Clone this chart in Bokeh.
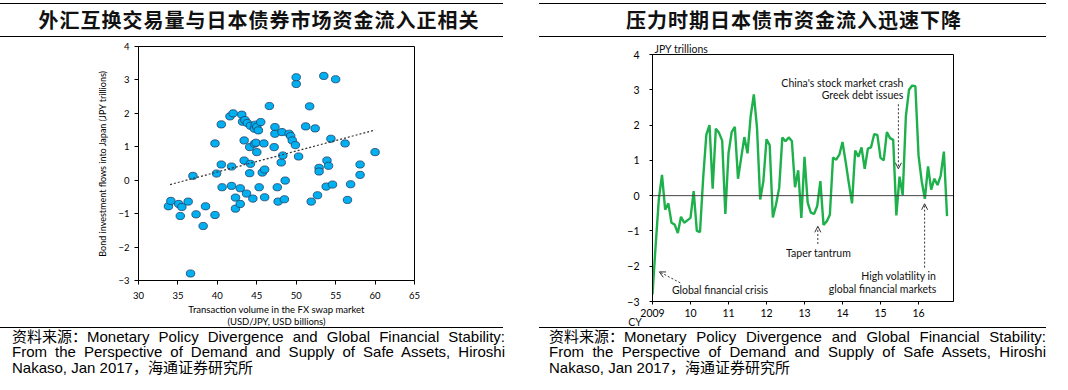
from bokeh.plotting import figure
from bokeh.models import Range1d, Div, Label, Arrow, OpenHead, FixedTicker, Span
from bokeh.layouts import column, row
from bokeh.embed import file_html
from bokeh.resources import INLINE

# ---------------- data ----------------
title_left = "外汇互换交易量与日本债券市场资金流入正相关"
title_right = "压力时期日本债市资金流入迅速下降"

fx_volume = [33.8, 34.1, 35.1, 35.5, 35.3, 36.3, 36.9, 37.3, 38.2, 38.5,
             36.6, 39.7, 39.7, 39.9, 40.5, 40.5, 40.6, 41.6, 42.0, 41.8,
             41.8, 42.3, 42.3, 42.9, 42.9, 43.1, 43.2, 43.5, 43.8, 44.2,
             43.4, 43.4, 43.7, 44.1, 44.2, 44.1, 44.5, 44.7, 44.8, 45.0,
             45.2, 45.5, 44.7, 44.9, 45.0, 45.3, 45.9, 45.7, 46.0, 46.0,
             46.6, 47.2, 47.3, 47.3, 47.6, 47.7, 48.1, 48.3, 48.2, 48.5,
             48.6, 49.1, 49.3, 49.5, 49.9, 50.0, 50.0, 50.3, 51.2, 51.7,
             52.4, 51.9, 52.7, 52.9, 52.9, 53.5, 53.8, 53.9, 54.1, 54.4,
             54.6, 55.0, 56.2, 56.5, 56.9, 58.1, 58.1, 60.0]
bond_flows = [-0.78, -0.62, -0.71, -0.80, -1.07, -0.64, 0.13, -1.02, -1.37, -0.78,
              -2.79, -1.04, 1.10, 0.20, 1.67, 0.47, -0.21, 1.91, 2.00, 0.41,
              -0.17, -0.52, -0.85, -0.71, -0.24, 1.96, 1.75, 1.80, 1.71, 1.63,
              1.19, 0.59, -0.40, 0.99, 0.49, 0.21, -0.55, 1.54, 1.66, 1.60,
              1.49, 1.74, 1.09, 1.12, 0.84, -0.21, 1.10, 0.23, 0.32, -0.51,
              2.22, 0.99, 1.59, 1.39, -0.21, -0.64, 0.53, 0.74, 1.44, -0.57,
              -0.01, 1.39, 1.32, 1.19, 1.05, 2.88, 3.08, 0.71, 1.61, 2.21,
              1.55, -0.64, -0.45, 0.37, 0.26, 3.12, -0.19, 0.59, 0.43, 1.24,
              -0.13, 3.02, 1.10, -0.59, -0.12, 0.47, 0.16, 0.84]
trend_x = [34.0, 60.0]
trend_y = [-0.13, 1.50]

scatter_xticks = [30, 35, 40, 45, 50, 55, 60, 65]
scatter_yticks = [-3, -2, -1, 0, 1, 2, 3, 4]

# monthly bond investment flows, Jan 2009 - Oct 2016 (JPY trillions)
monthly_flows = [
    -2.80, -1.40, -0.10, 0.59, -0.40, -0.22, -0.77, -0.82, -1.06, -0.60, -0.77, -0.70,   # 2009
    -0.63, 0.13, -1.00, -1.03, 0.50, 1.73, 2.00, 0.20, 1.90, 1.78, 1.56, -0.52,          # 2010
    1.20, 1.80, 1.95, 0.48, 1.07, 1.66, 1.20, 2.25, 2.87, 1.92, -0.11, 0.40,             # 2011
    1.60, 1.43, -0.62, -0.25, 0.22, 1.65, 1.54, 1.65, 1.55, 0.24, 0.72, -0.63,           # 2012
    1.10, -0.20, -0.48, -0.52, -0.30, 0.41, -0.83, -0.73, -0.54, 1.08, 1.02, 1.16,       # 2013
    1.52, 0.95, 0.35, -0.22, 1.28, 1.10, 1.37, 0.76, 1.33, 1.37, 1.74, 1.72,             # 2014
    1.07, 1.00, 1.80, 1.63, 1.58, -0.56, 0.54, 0.02, 2.25, 3.00, 3.12, 3.10,             # 2015
    1.14, 0.41, -0.09, 0.83, 0.17, 0.48, 0.30, 0.57, 1.25, -0.58,                       # 2016
]
start_year = 2009
year_ticks = [2009, 2010, 2011, 2012, 2013, 2014, 2015, 2016]
year_labels = ["2009", "10", "11", "12", "13", "14", "15", "16"]
line_yticks = [-3, -2, -1, 0, 1, 2, 3, 4]

source_prefix = "资料来源："
source_lines = ["Monetary Policy Divergence and Global Financial Stability:",
                "From the Perspective of Demand and Supply of Safe Assets, Hiroshi",
                "Nakaso, Jan 2017"]
source_suffix = "，海通证券研究所"

month_x = [start_year + i / 12.0 for i in range(len(monthly_flows))]

FONT = "Lato"
CJK = "Noto Sans CJK SC"


def title_div(w, text, cx, x0, x1):
    html = (f'<div style="position:relative;width:{w}px;height:40px;">'
            f'<div style="position:absolute;left:{x0}px;top:3px;width:{x1 - x0}px;'
            f'border-top:1.5px solid #000;"></div>'
            f'<div style="position:absolute;left:{x0}px;top:36px;width:{x1 - x0}px;'
            f'border-top:1.5px solid #000;"></div>'
            f'<div style="position:absolute;left:{cx - 240}px;top:7px;width:480px;'
            f'text-align:center;font-family:\'{CJK}\';font-weight:bold;font-size:20px;'
            f'line-height:26px;letter-spacing:1px;color:#111;white-space:nowrap;">{text}</div>'
            f'</div>')
    return Div(text=html, width=w, height=40, margin=0)


def source_div(w, tx0, tw, x0, x1, extra=""):
    cjk = f"display:inline-block;font-family:'{CJK}';line-height:15.5px;"
    base = (f"height:15.5px;line-height:15.5px;overflow:visible;"
            f"font-family:'Liberation Sans',Arial,sans-serif;font-size:15px;color:#000;")
    just = "text-align:justify;text-align-last:justify;"
    lines = (f'<div style="{base}{just}"><span style="{cjk}">{source_prefix}</span>'
             f'<span>{source_lines[0]}</span></div>'
             f'<div style="{base}{just}"><span>{source_lines[1]}</span></div>'
             f'<div style="{base}text-align:left;"><span>{source_lines[2]}</span>'
             f'<span style="{cjk}">{source_suffix}</span></div>')
    html = (f'<div style="position:relative;width:{w}px;height:55px;">'
            f'<div style="position:absolute;left:{x0}px;top:-6px;width:{x1 - x0}px;'
            f'border-top:1.5px solid #000;"></div>'
            f'<div style="position:absolute;left:{tx0}px;top:-5px;width:{tw}px;">{lines}</div>'
            f'{extra}</div>')
    return Div(text=html, width=w, height=55, margin=0)


# ---------------- left: scatter ----------------
p1 = figure(width=534, height=293, x_range=Range1d(30, 65), y_range=Range1d(-3, 4),
            toolbar_location=None, output_backend="svg",
            min_border_left=138, min_border_right=120, min_border_top=6, min_border_bottom=53)
p1.grid.visible = False
p1.outline_line_color = "#000000"
p1.ellipse(x=fx_volume, y=bond_flows, width=8.5, height=7.2,
           width_units="screen", height_units="screen",
           fill_color="#00B0F0", line_color="#1F3F66", line_width=0.8)
p1.line(trend_x, trend_y, line_color="#333333", line_width=1.2, line_dash="2 2")
p1.xaxis.ticker = FixedTicker(ticks=scatter_xticks)
p1.yaxis.ticker = FixedTicker(ticks=scatter_yticks)
p1.xaxis.axis_label = "Transaction volume in the FX swap market\n(USD/JPY, USD billions)"
p1.yaxis.axis_label = "Bond investment flows into Japan (JPY trillions)"
for ax in (p1.xaxis[0], p1.yaxis[0]):
    ax.axis_line_color = "#000000"
    ax.major_tick_line_color = "#000000"
    ax.minor_tick_line_color = None
    ax.major_tick_in = 0
    ax.major_tick_out = 4
    ax.major_label_text_font = FONT
    ax.major_label_text_font_size = "9.5px"
    ax.major_label_text_color = "#000000"
    ax.axis_label_text_font = FONT
    ax.axis_label_text_font_style = "normal"
    ax.axis_label_text_font_size = "9.5px"
    ax.axis_label_text_color = "#000000"
p1.xaxis.major_label_standoff = 7
p1.xaxis.axis_label_standoff = 2
p1.xaxis.axis_label_text_line_height = 1.1
p1.yaxis.major_label_standoff = 5
p1.yaxis.axis_label_standoff = 7
p1.yaxis.axis_label_text_font_size = "9px"

# ---------------- right: line ----------------
p2 = figure(width=532, height=293, x_range=Range1d(2009, 2016.92), y_range=Range1d(-3, 4),
            toolbar_location=None, output_backend="svg",
            min_border_left=118, min_border_right=113, min_border_top=13, min_border_bottom=32)
p2.grid.visible = False
p2.outline_line_color = "#000000"
p2.line(month_x, monthly_flows, line_color="#1DB04B", line_width=2.4)
p2.add_layout(Span(location=0, dimension="width", line_color="#444444", line_width=1))
p2.xaxis.ticker = FixedTicker(ticks=year_ticks)
p2.xaxis.major_label_overrides = {t: l for t, l in zip(year_ticks, year_labels)}
p2.yaxis.ticker = FixedTicker(ticks=line_yticks)
for ax in (p2.xaxis[0], p2.yaxis[0]):
    ax.axis_line_color = "#000000"
    ax.major_tick_line_color = "#000000"
    ax.minor_tick_line_color = None
    ax.major_tick_in = 0
    ax.major_tick_out = 3
    ax.major_label_text_font = FONT
    ax.major_label_text_font_size = "10.5px"
    ax.major_label_text_color = "#000000"
p2.xaxis.major_label_standoff = 4
p2.yaxis.major_label_standoff = 10

p2.title.text = "JPY trillions"
p2.title.align = "left"
p2.title.offset = 2
p2.title.standoff = 0
p2.title.text_font = FONT
p2.title.text_font_size = "10.5px"
p2.title.text_font_style = "normal"
p2.title.text_color = "#111111"

ann = dict(text_font=FONT, text_font_size="10.5px", text_color="#111111")
p2.add_layout(Label(x=2015.6, y=3.19, text="China's stock market crash", text_align="right",
                    text_baseline="middle", **ann))
p2.add_layout(Label(x=2015.6, y=2.84, text="Greek debt issues", text_align="right",
                    text_baseline="middle", **ann))
p2.add_layout(Label(x=2013.37, y=-1.63, text="Taper tantrum", text_align="center",
                    text_baseline="middle", **ann))
p2.add_layout(Label(x=2016.47, y=-2.29, text="High volatility in", text_align="right",
                    text_baseline="middle", **ann))
p2.add_layout(Label(x=2016.47, y=-2.65, text="global financial markets", text_align="right",
                    text_baseline="middle", **ann))
p2.add_layout(Label(x=2009.51, y=-2.68, text="Global financial crisis", text_align="left",
                    text_baseline="middle", **ann))

arrow_style = dict(line_color="#333333", line_width=1, line_dash="2 2")
for xs, ys, xe, ye in [(2015.47, 2.59, 2015.47, 0.76),
                       (2013.35, -1.37, 2013.35, -0.87),
                       (2016.16, -2.04, 2016.16, -0.23),
                       (2009.73, -2.47, 2009.18, -2.16)]:
    p2.add_layout(Arrow(x_start=xs, y_start=ys, x_end=xe, y_end=ye,
                        end=OpenHead(size=6, line_color="#333333", line_width=1),
                        **arrow_style))

cy_label = (f'<div style="position:absolute;left:81px;top:-17px;width:40px;text-align:center;'
            f'font-family:\'{FONT}\';font-size:10.5px;line-height:13px;color:#111;">CY</div>')

left = column(title_div(534, title_left, 259, 0, 503), p1,
              source_div(534, 12, 493, 0, 503))
right = column(title_div(532, title_right, 260, 5, 512), p2,
               source_div(532, 15, 497, 5, 512, cy_label))
layout = row(left, right)

open("out.html", "w").write(file_html(layout, INLINE))
